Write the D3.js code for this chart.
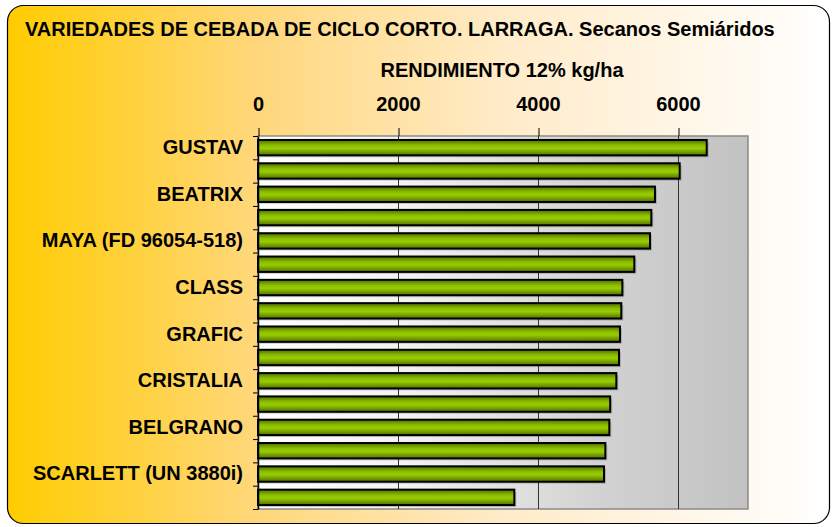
<!DOCTYPE html>
<html><head><meta charset="utf-8">
<script src="https://cdn.jsdelivr.net/npm/d3@7/dist/d3.min.js"></script>
<style>body{margin:0;background:#fff}svg{display:block}text{font-family:"Liberation Sans",Arial,sans-serif;font-weight:bold;fill:#000}</style>
</head><body><svg id="c" width="833" height="527"></svg>
<script>
const titleText = "VARIEDADES DE CEBADA DE CICLO CORTO. LARRAGA. Secanos Semiáridos";
const axisTitle = "RENDIMIENTO 12% kg/ha";
const varieties = ["GUSTAV","","BEATRIX","","MAYA (FD 96054-518)","","CLASS","","GRAFIC","","CRISTALIA","","BELGRANO","","SCARLETT (UN 3880i)",""];
const yields = [6410,6024,5671,5619,5600,5376,5205,5190,5171,5157,5119,5031,5019,4962,4943,3662];
const xTicks = [0,2000,4000,6000];
const xMax = 7000;

const FS = 20;
const svg = d3.select("#c");
const defs = svg.append("defs");
const bg = defs.append("linearGradient").attr("id","bg").attr("x1","0").attr("x2","1").attr("y1","0").attr("y2","0");
bg.append("stop").attr("offset","0").attr("stop-color","#FFCC00");
bg.append("stop").attr("offset","0.3").attr("stop-color","#FFD77A");
bg.append("stop").attr("offset","0.6").attr("stop-color","#FFEBC8");
bg.append("stop").attr("offset","1").attr("stop-color","#FFFFFF");
const pg = defs.append("linearGradient").attr("id","pg").attr("x1","0").attr("x2","1").attr("y1","0").attr("y2","0");
pg.append("stop").attr("offset","0").attr("stop-color","#FFFFFF");
pg.append("stop").attr("offset","0.3").attr("stop-color","#F2F2F2");
pg.append("stop").attr("offset","0.7").attr("stop-color","#D2D2D2");
pg.append("stop").attr("offset","1").attr("stop-color","#C2C2C2");
const gg = defs.append("linearGradient").attr("id","gg").attr("x1","0").attr("x2","0").attr("y1","0").attr("y2","1");
gg.append("stop").attr("offset","0").attr("stop-color","#4E7000");
gg.append("stop").attr("offset","0.35").attr("stop-color","#8CBE00");
gg.append("stop").attr("offset","0.55").attr("stop-color","#99CC00");
gg.append("stop").attr("offset","1").attr("stop-color","#4E7000");

svg.append("rect").attr("x",7.5).attr("y",5.5).attr("width",822).attr("height",518).attr("rx",16)
  .attr("fill","url(#bg)").attr("stroke","#000").attr("stroke-width",1.2);

const m = {l:258, r:748, t:136, b:509};
const x = d3.scaleLinear().domain([0,xMax]).range([m.l,m.r]);
const y = d3.scaleBand().domain(d3.range(varieties.length)).range([m.t,m.b]).paddingInner(0.34).paddingOuter(0.17);
const yb = d3.scaleBand().domain(d3.range(varieties.length)).range([m.t,m.b]);

svg.append("rect").attr("x",m.l).attr("y",m.t).attr("width",m.r-m.l).attr("height",m.b-m.t)
  .attr("fill","url(#pg)").attr("stroke","#8a8a8a").attr("stroke-width",1.5);

svg.append("g").selectAll("line").data(xTicks.filter(d=>d>0)).join("line")
  .attr("x1",d=>x(d)+0.5).attr("x2",d=>x(d)+0.5).attr("y1",m.t).attr("y2",m.b)
  .attr("stroke","#333").attr("stroke-width",1);

// shadows
svg.append("g").selectAll("rect").data(yields).join("rect")
  .attr("x",x(0)+2).attr("y",(d,i)=>y(i)+2).attr("width",d=>x(d)-x(0)).attr("height",y.bandwidth())
  .attr("fill","#000").attr("opacity",0.18);
svg.append("g").selectAll("rect").data(yields).join("rect")
  .attr("x",x(0)).attr("y",(d,i)=>y(i)).attr("width",d=>x(d)-x(0)).attr("height",y.bandwidth())
  .attr("fill","url(#gg)").attr("stroke","#000").attr("stroke-width",2);

// top axis
const ax = svg.append("g").attr("transform",`translate(0,${m.t})`)
  .call(d3.axisTop(x).tickValues(xTicks).tickFormat(d3.format("d")).tickSize(8).tickPadding(17));
ax.select(".domain").remove();
ax.selectAll("line").attr("stroke","#000").attr("transform","translate(0.5,0)");
ax.selectAll("text").attr("font-size",FS).attr("font-family","Liberation Sans, Arial, sans-serif").attr("font-weight","bold").attr("fill","#000");

// left axis
const ay = svg.append("g").attr("transform",`translate(${m.l},0)`)
  .call(d3.axisLeft(yb).tickFormat(i=>varieties[i]).tickSize(0).tickPadding(15));
ay.select(".domain").attr("stroke","#000").attr("stroke-width",1.5);
ay.selectAll("text").attr("font-size",FS).attr("font-family","Liberation Sans, Arial, sans-serif").attr("font-weight","bold").attr("fill","#000");
svg.append("g").selectAll("line").data(d3.range(varieties.length+1)).join("line")
  .attr("x1",m.l-5).attr("x2",m.l).attr("y1",i=>m.t+i*yb.step()+0.5).attr("y2",i=>m.t+i*yb.step()+0.5)
  .attr("stroke","#000");

svg.append("text").attr("x",25).attr("y",36).attr("font-size",FS).text(titleText);
svg.append("text").attr("x",502).attr("y",77).attr("text-anchor","middle").attr("font-size",FS).text(axisTitle);
</script></body></html>
